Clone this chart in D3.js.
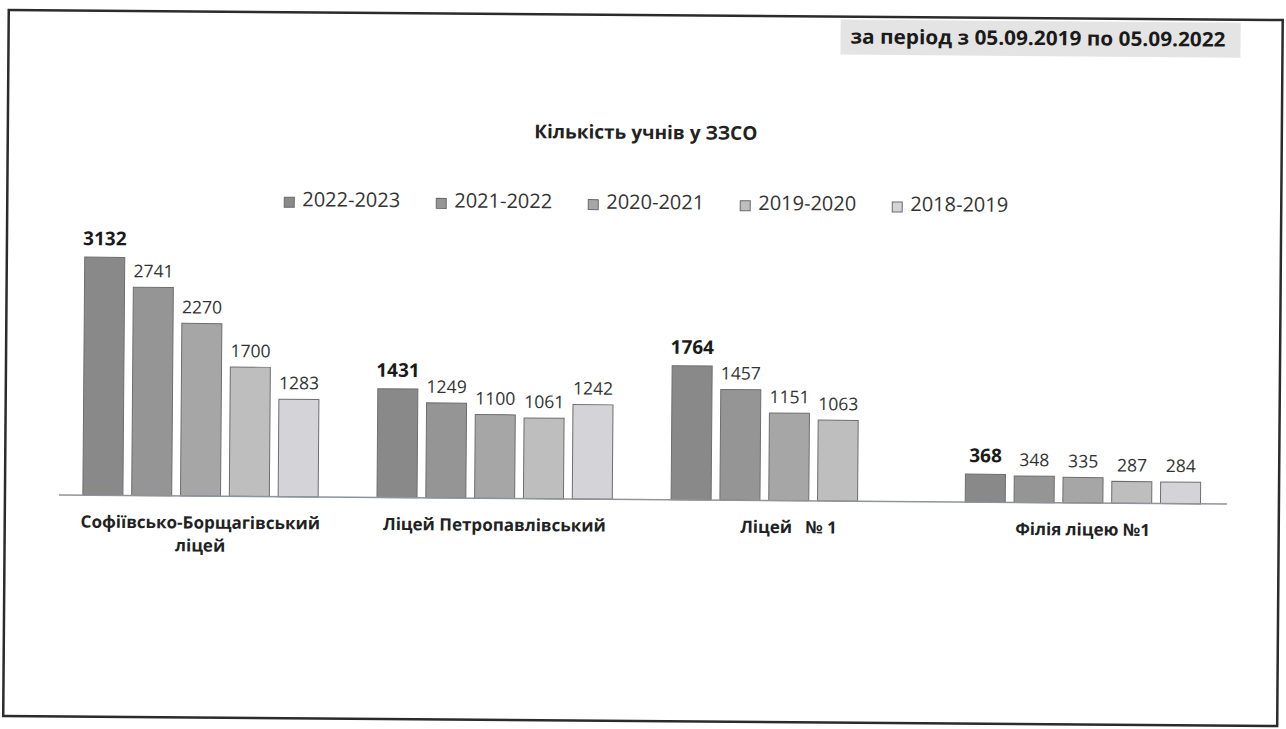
<!DOCTYPE html>
<html>
<head>
<meta charset="utf-8">
<script src="https://cdn.jsdelivr.net/npm/d3@7"></script>
<style>
  body { margin: 0; background: #fff; }
  text { font-family: "Open Sans", "Noto Sans", sans-serif; }
</style>
</head>
<body>
<svg id="chart" width="1286" height="729"></svg>
<script>
// categories + series
var schools = ["Софіївсько-Борщагівський ліцей", "Ліцей Петропавлівський", "Ліцей   № 1", "Філія ліцею №1"];
var years = ["2022-2023", "2021-2022", "2020-2021", "2019-2020", "2018-2019"];
var y2022 = [3132, 1431, 1764, 368];
var y2021 = [2741, 1249, 1457, 348];
var y2020 = [2270, 1100, 1151, 335];
var y2019 = [1700, 1061, 1063, 287];
var y2018 = [1283, 1242, null, 284];
var seriesColors = ["#898989", "#959595", "#a6a6a6", "#bebebe", "#d3d3d8"];

var chartTitle = "Кількість учнів у ЗЗСО";
var periodText = "за період з 05.09.2019 по 05.09.2022";

var series = [y2022, y2021, y2020, y2019, y2018];

var svg = d3.select("#chart");
svg.append("rect").attr("width", 1286).attr("height", 729).style("fill", "#fff");

// the scan is a little bit tilted, so rotate everything
var g = svg.append("g").attr("transform", "rotate(0.45, 643, 364)");

// frame
g.append("rect")
    .attr("x", 6).attr("y", 15)
    .attr("width", 1274).attr("height", 706)
    .style("fill", "none")
    .style("stroke", "#2b2b2b")
    .style("stroke-width", 2.5);

// period box top right
g.append("rect")
    .attr("x", 838).attr("y", 18)
    .attr("width", 400).attr("height", 35)
    .style("fill", "#e4e4e4");
g.append("text")
    .attr("x", 848).attr("y", 42)
    .attr("textLength", 375)
    .attr("lengthAdjust", "spacingAndGlyphs")
    .style("font-size", "20px")
    .style("font-weight", "bold")
    .style("fill", "#1a1a1a")
    .text(periodText);

// title
g.append("text")
    .attr("x", 644).attr("y", 139)
    .attr("text-anchor", "middle")
    .style("font-size", "19px")
    .style("font-weight", "bold")
    .style("fill", "#222")
    .text(chartTitle);

// legend
var legend = g.append("g").attr("transform", "translate(283,200)");
var item = legend.selectAll("g").data(years).enter().append("g")
    .attr("transform", function (d, i) { return "translate(" + (i * 152) + ",0)"; });
item.append("rect")
    .attr("width", 10).attr("height", 10)
    .style("fill", function (d, i) { return seriesColors[i]; })
    .style("stroke", "#6a6a6a")
    .style("stroke-width", 1);
item.append("text")
    .attr("x", 18).attr("y", 9)
    .style("font-size", "20px")
    .style("fill", "#333")
    .text(function (d) { return d; });

// scales
var x0 = d3.scaleBand().domain(schools).range([54.5, 1231]).paddingInner(0.2).paddingOuter(0.1);
var x1 = d3.scaleBand().domain(years).range([0, x0.bandwidth()]).paddingInner(0.18);
var y = d3.scaleLinear().domain([0, 3500]).range([499.5, 233.5]);

// flatten to bar records
var bars = [];
schools.forEach(function (s, i) {
    years.forEach(function (yr, j) {
        var v = series[j][i];
        if (v != null) bars.push({ school: s, year: yr, idx: j, value: v });
    });
});

g.selectAll(".bar").data(bars).enter().append("rect")
    .attr("class", "bar")
    .attr("x", function (d) { return x0(d.school) + x1(d.year); })
    .attr("y", function (d) { return y(d.value); })
    .attr("width", x1.bandwidth())
    .attr("height", function (d) { return y(0) - y(d.value); })
    .style("fill", function (d) { return seriesColors[d.idx]; })
    .style("stroke", "#6e6e6e")
    .style("stroke-width", 1);

// value labels, first series is bold
g.selectAll(".lbl").data(bars).enter().append("text")
    .attr("class", "lbl")
    .attr("x", function (d) { return x0(d.school) + x1(d.year) + x1.bandwidth() / 2; })
    .attr("y", function (d) { return y(d.value) - (d.idx === 0 ? 12 : 10); })
    .attr("text-anchor", "middle")
    .style("font-size", function (d) { return d.idx === 0 ? "19px" : "17.5px"; })
    .style("font-weight", function (d) { return d.idx === 0 ? "bold" : "normal"; })
    .style("fill", function (d) { return d.idx === 0 ? "#1a1a1a" : "#333"; })
    .text(function (d) { return d.value; });

// category axis line
g.append("line")
    .attr("x1", 60).attr("x2", 1228)
    .attr("y1", y(0)).attr("y2", y(0))
    .style("stroke", "#8e949c")
    .style("stroke-width", 1.5);

// category labels, wrapped when too long
var cat = g.selectAll(".cat").data(schools).enter().append("text")
    .attr("class", "cat")
    .attr("x", function (d) { return x0(d) + x0.bandwidth() / 2; })
    .attr("y", 532)
    .attr("text-anchor", "middle")
    .style("font-size", "17px")
    .style("font-weight", "bold")
    .style("fill", "#222")
    .style("white-space", "pre")
    .text(function (d) { return d; });

cat.each(function (d) {
    var t = d3.select(this);
    if (this.getComputedTextLength() <= 250) return;
    var words = d.split(" ");
    var last = words.pop();
    var cx = t.attr("x");
    t.text(null);
    t.append("tspan").attr("x", cx).attr("y", 532).text(words.join(" "));
    t.append("tspan").attr("x", cx).attr("y", 555).text(last);
});
</script>
</body>
</html>
